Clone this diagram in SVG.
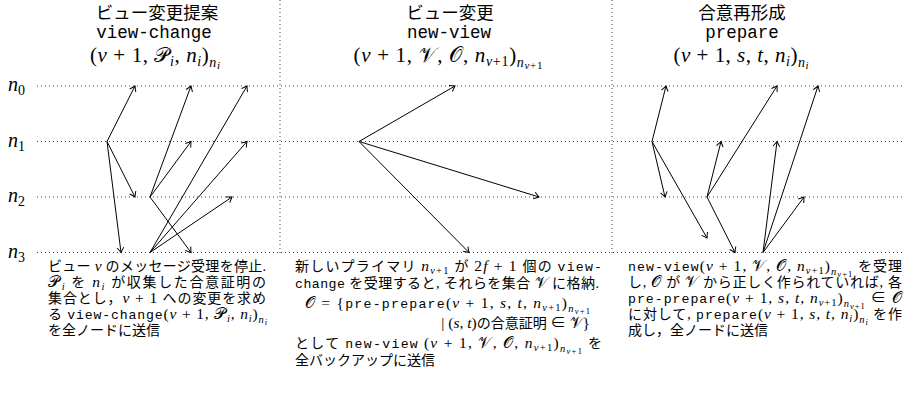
<svg xmlns="http://www.w3.org/2000/svg" width="910" height="402" viewBox="0 0 910 402">
<style>
.jp{font-family:"Noto Sans CJK JP",sans-serif;font-size:17.5px;text-anchor:middle;fill:#000}
.ht{font-family:"Liberation Mono","DejaVu Sans Mono",monospace;font-size:17.5px;text-anchor:middle;fill:#000}
.hm{font-family:"Liberation Serif","DejaVu Serif",serif;font-size:21px;text-anchor:middle;fill:#000}
.hs{font-size:14px}
.hss{font-size:11px}
.b{font-family:"Liberation Serif","Noto Sans CJK JP",serif;font-size:14px;fill:#000}
.m{font-size:15.5px}
.tt{font-family:"Liberation Mono","DejaVu Sans Mono",monospace;font-size:13.2px}
.i{font-style:italic}
.s{font-size:10.5px}
.ss{font-size:8.5px}
.lab{font-family:"Liberation Serif","DejaVu Serif",serif;font-size:20px;fill:#000}
.dot{stroke:#444;stroke-width:1;stroke-dasharray:1 3;fill:none}
.arr{stroke:#000;stroke-width:1;fill:none;marker-end:url(#ah)}
</style>
<defs>
<marker id="ah" viewBox="-7 -5 9 10" markerWidth="9" markerHeight="10" refX="0" refY="0" orient="auto" markerUnits="userSpaceOnUse">
<path d="M-5,-3.4 Q-1.5,-0.9 0,0 Q-1.5,0.9 -5,3.4" fill="none" stroke="#000" stroke-width="1"/>
</marker>
</defs>
<rect width="910" height="402" fill="#fff"/>

<g id="dividers">
<line class="dot" x1="280" y1="0" x2="280" y2="253"/>
<line class="dot" x1="612" y1="0" x2="612" y2="253"/>
</g>

<g id="node-n0">
<text class="lab" x="8" y="91"><tspan class="i">n</tspan><tspan class="hs" dy="4">0</tspan></text>
<line class="dot" x1="37" y1="86" x2="905" y2="86"/>
</g>
<g id="node-n1">
<text class="lab" x="8" y="146.5"><tspan class="i">n</tspan><tspan class="hs" dy="4">1</tspan></text>
<line class="dot" x1="37" y1="141.5" x2="905" y2="141.5"/>
</g>
<g id="node-n2">
<text class="lab" x="8" y="202"><tspan class="i">n</tspan><tspan class="hs" dy="4">2</tspan></text>
<line class="dot" x1="37" y1="197" x2="905" y2="197"/>
</g>
<g id="node-n3">
<text class="lab" x="8" y="257.5"><tspan class="i">n</tspan><tspan class="hs" dy="4">3</tspan></text>
<line class="dot" x1="37" y1="252.5" x2="905" y2="252.5"/>
</g>

<g id="header-view-change">
<text class="jp" x="157" y="18.5">ビュー変更提案</text>
<text class="ht" x="154" y="38">view-change</text>
<text class="hm" x="155" y="62" textLength="130" lengthAdjust="spacing">(<tspan class="i">v</tspan> + 1, 𝒫<tspan class="hs i" dy="4">i</tspan><tspan dy="-4">, </tspan><tspan class="i">n</tspan><tspan class="hs i" dy="4">i</tspan><tspan dy="-4">)</tspan><tspan class="hs i" dy="5">n</tspan><tspan class="hss i" dy="2">i</tspan></text>
</g>
<g id="header-new-view">
<text class="jp" x="450" y="18.5">ビュー変更</text>
<text class="ht" x="449" y="38">new-view</text>
<text class="hm" x="448" y="62" textLength="189" lengthAdjust="spacing">(<tspan class="i">v</tspan> + 1, 𝒱, 𝒪, <tspan class="i">n</tspan><tspan class="hs" dy="4"><tspan class="i">v</tspan>+1</tspan><tspan dy="-4">)</tspan><tspan class="hs i" dy="5">n</tspan><tspan class="hss" dy="2"><tspan class="i">v</tspan>+1</tspan></text>
</g>
<g id="header-prepare">
<text class="jp" x="742" y="18.5">合意再形成</text>
<text class="ht" x="742" y="38">prepare</text>
<text class="hm" x="741" y="62" textLength="135" lengthAdjust="spacing">(<tspan class="i">v</tspan> + 1, <tspan class="i">s</tspan>, <tspan class="i">t</tspan>, <tspan class="i">n</tspan><tspan class="hs i" dy="4">i</tspan><tspan dy="-4">)</tspan><tspan class="hs i" dy="5">n</tspan><tspan class="hss i" dy="2">i</tspan></text>
</g>

<g id="connectors">
<path class="arr" d="M107,141.5 L135,86"/>
<path class="arr" d="M107,141.5 L135,197"/>
<path class="arr" d="M107,141.5 L121,252.5"/>
<path class="arr" d="M150,197 L191,86"/>
<path class="arr" d="M150,197 L191,141.5"/>
<path class="arr" d="M150,197 L191,252.5"/>
<path class="arr" d="M150,252.5 L247,86"/>
<path class="arr" d="M150,252.5 L247,141.5"/>
<path class="arr" d="M150,252.5 L232,197"/>
<path class="arr" d="M359,141.5 L455,86"/>
<path class="arr" d="M359,141.5 L539,197"/>
<path class="arr" d="M359,141.5 L469,252.5"/>
<path class="arr" d="M652,141.5 L666,86"/>
<path class="arr" d="M652,141.5 L665,197"/>
<path class="arr" d="M652,141.5 L707,238"/>
<path class="arr" d="M707,197 L721,141.5"/>
<path class="arr" d="M707,197 L777,86"/>
<path class="arr" d="M707,197 L735,252.5"/>
<path class="arr" d="M763,252.5 L777,141.5"/>
<path class="arr" d="M763,252.5 L818,86"/>
<path class="arr" d="M763,252.5 L804,197"/>
</g>

<g id="text-view-change">
<text class="b" x="48" y="271" textLength="218" lengthAdjust="spacing">ビュー <tspan class="m i">v</tspan> のメッセージ受理を停止.</text>
<text class="b" x="48" y="287" textLength="218" lengthAdjust="spacing"><tspan class="m">𝒫</tspan><tspan class="s i" dy="3">i</tspan><tspan dy="-3"> を </tspan><tspan class="m i">n</tspan><tspan class="s i" dy="3">i</tspan><tspan dy="-3"> が収集した合意証明の</tspan></text>
<text class="b" x="48" y="303" textLength="218" lengthAdjust="spacing">集合とし，<tspan class="m"><tspan class="i">v</tspan> + 1</tspan> への変更を求め</text>
<text class="b" x="48" y="319" textLength="219" lengthAdjust="spacing">る <tspan class="tt">view-change</tspan><tspan class="m">(<tspan class="i">v</tspan> + 1, 𝒫</tspan><tspan class="s i" dy="3">i</tspan><tspan class="m" dy="-3">, <tspan class="i">n</tspan></tspan><tspan class="s i" dy="3">i</tspan><tspan class="m" dy="-3">)</tspan><tspan class="s i" dy="4">n</tspan><tspan class="ss i" dy="2">i</tspan></text>
<text class="b" x="48" y="335">を全ノードに送信</text>
</g>

<g id="text-new-view">
<text class="b" x="295" y="271" textLength="307" lengthAdjust="spacing">新しいプライマリ <tspan class="m i">n</tspan><tspan class="s" dy="3"><tspan class="i">v</tspan>+1</tspan><tspan dy="-3"> が </tspan><tspan class="m">2<tspan class="i">f</tspan> + 1</tspan> 個の <tspan class="tt">view-</tspan></text>
<text class="b" x="295" y="288" textLength="304" lengthAdjust="spacing"><tspan class="tt">change</tspan> を受理すると, それらを集合 <tspan class="m">𝒱</tspan> に格納.</text>
<text class="b" x="305" y="308" textLength="285" lengthAdjust="spacing"><tspan class="m">𝒪 = {</tspan><tspan class="tt">pre-prepare</tspan><tspan class="m">(<tspan class="i">v</tspan> + 1, <tspan class="i">s</tspan>, <tspan class="i">t</tspan>, <tspan class="i">n</tspan></tspan><tspan class="s" dy="3"><tspan class="i">v</tspan>+1</tspan><tspan class="m" dy="-3">)</tspan><tspan class="s i" dy="4">n</tspan><tspan class="ss" dy="2"><tspan class="i">v</tspan>+1</tspan></text>
<text class="b" x="590" y="328" text-anchor="end"><tspan class="m">| (<tspan class="i">s</tspan>, <tspan class="i">t</tspan>)</tspan>の合意証明 <tspan class="m">∈ 𝒱}</tspan></text>
<text class="b" x="295" y="348" textLength="307" lengthAdjust="spacing">として <tspan class="tt">new-view</tspan> <tspan class="m">(<tspan class="i">v</tspan> + 1, 𝒱, 𝒪, <tspan class="i">n</tspan></tspan><tspan class="s" dy="3"><tspan class="i">v</tspan>+1</tspan><tspan class="m" dy="-3">)</tspan><tspan class="s i" dy="4">n</tspan><tspan class="ss" dy="2"><tspan class="i">v</tspan>+1</tspan><tspan dy="-6"> を</tspan></text>
<text class="b" x="295" y="365">全バックアップに送信</text>
</g>

<g id="text-prepare">
<text class="b" x="628" y="271" textLength="274" lengthAdjust="spacing"><tspan class="tt">new-view</tspan><tspan class="m">(<tspan class="i">v</tspan> + 1, 𝒱, 𝒪, <tspan class="i">n</tspan></tspan><tspan class="s" dy="3"><tspan class="i">v</tspan>+1</tspan><tspan class="m" dy="-3">)</tspan><tspan class="s i" dy="4">n</tspan><tspan class="ss" dy="2"><tspan class="i">v</tspan>+1</tspan><tspan dy="-6"> を受理</tspan></text>
<text class="b" x="628" y="287" textLength="274" lengthAdjust="spacing">し, <tspan class="m">𝒪</tspan> が <tspan class="m">𝒱</tspan> から正しく作られていれば, 各</text>
<text class="b" x="628" y="303" textLength="274" lengthAdjust="spacing"><tspan class="tt">pre-prepare</tspan><tspan class="m">(<tspan class="i">v</tspan> + 1, <tspan class="i">s</tspan>, <tspan class="i">t</tspan>, <tspan class="i">n</tspan></tspan><tspan class="s" dy="3"><tspan class="i">v</tspan>+1</tspan><tspan class="m" dy="-3">)</tspan><tspan class="s i" dy="4">n</tspan><tspan class="ss" dy="2"><tspan class="i">v</tspan>+1</tspan><tspan class="m" dy="-6"> ∈ 𝒪</tspan></text>
<text class="b" x="628" y="319" textLength="274" lengthAdjust="spacing">に対して, <tspan class="tt">prepare</tspan><tspan class="m">(<tspan class="i">v</tspan> + 1, <tspan class="i">s</tspan>, <tspan class="i">t</tspan>, <tspan class="i">n</tspan></tspan><tspan class="s i" dy="3">i</tspan><tspan class="m" dy="-3">)</tspan><tspan class="s i" dy="4">n</tspan><tspan class="ss i" dy="2">i</tspan><tspan dy="-6"> を作</tspan></text>
<text class="b" x="628" y="335">成し，全ノードに送信</text>
</g>
</svg>
